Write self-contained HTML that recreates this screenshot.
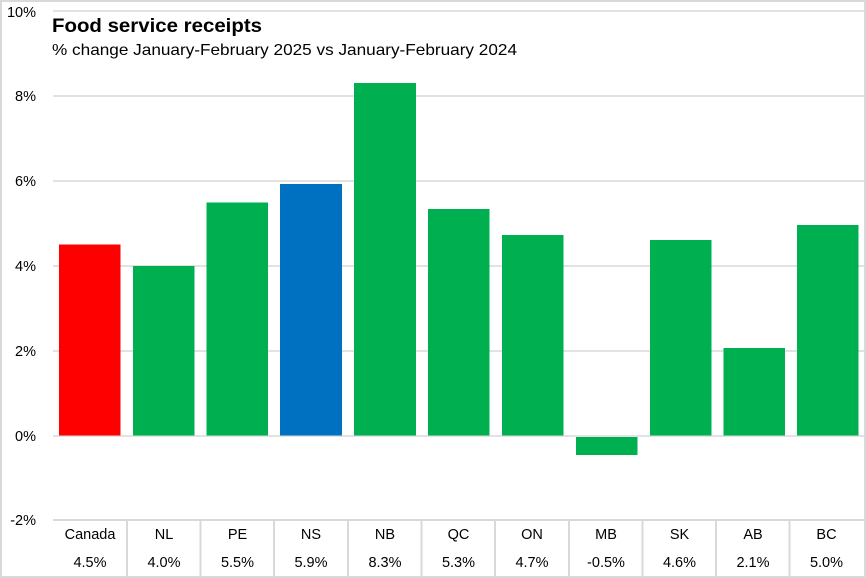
<!DOCTYPE html>
<html>
<head>
<meta charset="utf-8">
<style>
  html, body { margin: 0; padding: 0; background: #fff; }
  svg { display: block; }
  text { font-family: "Liberation Sans", sans-serif; fill: #000; }
</style>
</head>
<body>
<svg width="866" height="578" viewBox="0 0 866 578" xmlns="http://www.w3.org/2000/svg">
  <rect x="0" y="0" width="866" height="578" fill="#fff"/>
  <!-- outer border -->
  <rect x="1" y="1" width="864" height="576" fill="none" stroke="#d9d9d9" stroke-width="2"/>

  <!-- gridlines -->
  <g stroke="#d9d9d9" stroke-width="1.5">
    <line x1="53" y1="11" x2="864" y2="11"/>
    <line x1="53" y1="96" x2="864" y2="96"/>
    <line x1="53" y1="181" x2="864" y2="181"/>
    <line x1="53" y1="266" x2="864" y2="266"/>
    <line x1="53" y1="351" x2="864" y2="351"/>
    <line x1="53" y1="436" x2="864" y2="436"/>
  </g>
  <!-- table lines -->
  <g stroke="#d9d9d9" stroke-width="2">
    <line x1="53" y1="520" x2="864" y2="520"/>
    <line x1="127" y1="520" x2="127" y2="577"/>
    <line x1="200.5" y1="520" x2="200.5" y2="577"/>
    <line x1="274" y1="520" x2="274" y2="577"/>
    <line x1="348" y1="520" x2="348" y2="577"/>
    <line x1="421.5" y1="520" x2="421.5" y2="577"/>
    <line x1="495" y1="520" x2="495" y2="577"/>
    <line x1="569" y1="520" x2="569" y2="577"/>
    <line x1="642.5" y1="520" x2="642.5" y2="577"/>
    <line x1="716" y1="520" x2="716" y2="577"/>
    <line x1="789.5" y1="520" x2="789.5" y2="577"/>
  </g>

  <!-- bars -->
  <rect x="59" y="244.5" width="61.5" height="191" fill="#ff0000"/>
  <rect x="133" y="266" width="61.5" height="169.5" fill="#00b050"/>
  <rect x="206.5" y="202.5" width="61.5" height="233" fill="#00b050"/>
  <rect x="280" y="184" width="62" height="251.5" fill="#0070c0"/>
  <rect x="354" y="83" width="62" height="352.5" fill="#00b050"/>
  <rect x="428" y="209" width="61.5" height="226.5" fill="#00b050"/>
  <rect x="502" y="235" width="61.5" height="200.5" fill="#00b050"/>
  <rect x="576" y="437" width="61.5" height="18" fill="#00b050"/>
  <rect x="650" y="240" width="61.5" height="195.5" fill="#00b050"/>
  <rect x="723.5" y="348" width="61.5" height="87.5" fill="#00b050"/>
  <rect x="797" y="225" width="61.5" height="210.5" fill="#00b050"/>

  <!-- y-axis labels -->
  <g font-size="14.5" text-anchor="end">
    <text x="36" y="17">10%</text>
    <text x="36" y="101">8%</text>
    <text x="36" y="186">6%</text>
    <text x="36" y="271">4%</text>
    <text x="36" y="356">2%</text>
    <text x="36" y="441">0%</text>
    <text x="36" y="525">-2%</text>
  </g>

  <!-- title -->
  <text x="52" y="32" font-size="19.5" font-weight="bold" textLength="210" lengthAdjust="spacingAndGlyphs">Food service receipts</text>
  <text x="52" y="55" font-size="16" textLength="465" lengthAdjust="spacingAndGlyphs">% change January-February 2025 vs January-February 2024</text>

  <!-- table text -->
  <g font-size="14.5" text-anchor="middle">
    <text x="90" y="539">Canada</text>
    <text x="164" y="539">NL</text>
    <text x="237.5" y="539">PE</text>
    <text x="311" y="539">NS</text>
    <text x="385" y="539">NB</text>
    <text x="458.5" y="539">QC</text>
    <text x="532" y="539">ON</text>
    <text x="606" y="539">MB</text>
    <text x="679.5" y="539">SK</text>
    <text x="753" y="539">AB</text>
    <text x="826.5" y="539">BC</text>

    <text x="90" y="567">4.5%</text>
    <text x="164" y="567">4.0%</text>
    <text x="237.5" y="567">5.5%</text>
    <text x="311" y="567">5.9%</text>
    <text x="385" y="567">8.3%</text>
    <text x="458.5" y="567">5.3%</text>
    <text x="532" y="567">4.7%</text>
    <text x="606" y="567">-0.5%</text>
    <text x="679.5" y="567">4.6%</text>
    <text x="753" y="567">2.1%</text>
    <text x="826.5" y="567">5.0%</text>
  </g>
</svg>
</body>
</html>
